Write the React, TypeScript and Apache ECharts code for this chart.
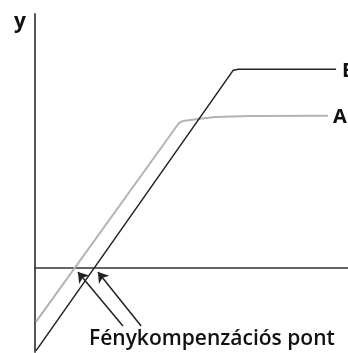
import React, { useEffect, useRef } from "react";
import * as echarts from "echarts";

const seriesBName = "B";
const seriesBData: [number, number][] = [
  [0.3, -29.6],
  [63.3, 70.0],
  [65.0, 70.4],
  [96.2, 70.4],
];

const seriesAName = "A";
const seriesAData: [number, number][] = [
  [0.3, -19.3],
  [46.0, 51.3],
  [47.2, 52.0],
  [52.7, 52.8],
  [57.5, 53.4],
  [68.7, 53.8],
  [93.6, 53.9],
];

const arrowLines: [number, number][][] = [
  [
    [28.1, -20.8],
    [13.7, -1.6],
  ],
  [
    [33.9, -20.8],
    [20.1, -1.6],
  ],
];

const yAxisLabel = "y";
const pointLabel = "Fénykompenzációs pont";

export default function App() {
  const ref = useRef<HTMLDivElement>(null);
  useEffect(() => {
    if (!ref.current) return;
    const chart = echarts.init(ref.current, null, { renderer: "svg" });
    const font = "'Open Sans', 'DejaVu Sans', sans-serif";
    chart.setOption({
      animation: false,
      grid: { left: 35, right: 0, top: 14, bottom: 1 },
      xAxis: {
        type: "value",
        min: 0,
        max: 100,
        axisLine: { show: true, onZero: true, lineStyle: { color: "#333", width: 1.5 } },
        axisTick: { show: false },
        axisLabel: { show: false },
        splitLine: { show: false },
      },
      yAxis: {
        type: "value",
        min: -30,
        max: 90,
        axisLine: { show: true, onZero: false, lineStyle: { color: "#555", width: 2 } },
        axisTick: { show: false },
        axisLabel: { show: false },
        splitLine: { show: false },
      },
      graphic: [
        {
          type: "text",
          left: 14,
          top: 9,
          style: { text: yAxisLabel, font: `700 21px ${font}`, fill: "#111" },
        },
        {
          type: "text",
          left: 89,
          top: 326,
          style: { text: pointLabel, font: `600 21px ${font}`, fill: "#111" },
        },
      ],
      series: [
        {
          name: seriesAName,
          type: "line",
          data: seriesAData,
          showSymbol: false,
          lineStyle: { color: "#b3b3b3", width: 2 },
          endLabel: {
            show: true,
            formatter: seriesAName,
            distance: 5,
            color: "#111",
            fontFamily: font,
            fontWeight: 700,
            fontSize: 20,
          },
        },
        {
          name: seriesBName,
          type: "line",
          data: seriesBData,
          showSymbol: false,
          lineStyle: { color: "#222", width: 1.5 },
          endLabel: {
            show: true,
            formatter: seriesBName,
            distance: 6,
            color: "#111",
            fontFamily: font,
            fontWeight: 700,
            fontSize: 20,
          },
        },
        {
          type: "lines",
          coordinateSystem: "cartesian2d",
          symbol: ["none", "arrow"],
          symbolSize: [6, 10],
          lineStyle: { color: "#222", width: 1.5, opacity: 1 },
          data: arrowLines.map((coords) => ({ coords })),
        },
      ],
    });
    return () => chart.dispose();
  }, []);
  return (
    <div
      ref={ref}
      style={{ position: "fixed", left: 0, top: 0, width: 348, height: 353 }}
    />
  );
}
